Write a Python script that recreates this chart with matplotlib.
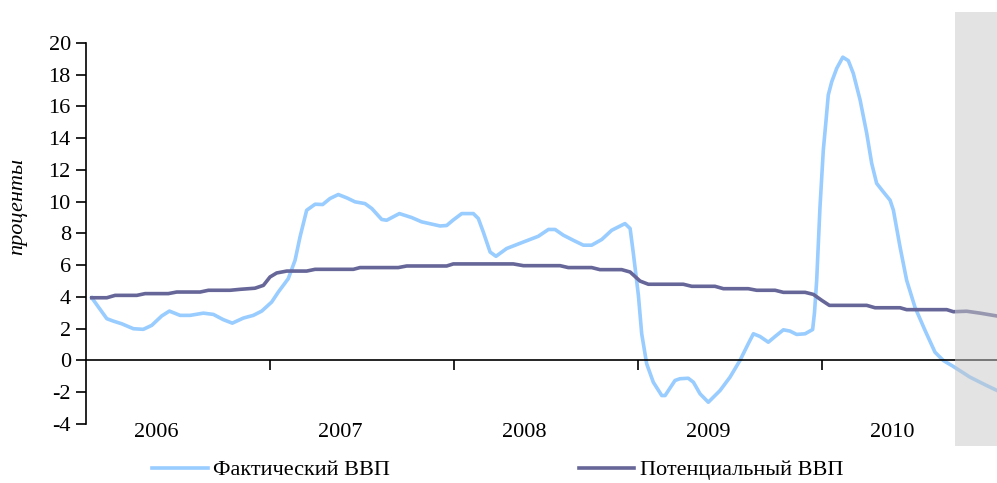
import numpy as np
import matplotlib.pyplot as plt

# Фактический ВВП (годы в десятичном виде, проценты)
fact_t = [2006.031, 2006.113, 2006.148, 2006.194, 2006.257, 2006.311, 2006.357, 2006.411,
          2006.453, 2006.511, 2006.565, 2006.638, 2006.692, 2006.746, 2006.795, 2006.855,
          2006.909, 2006.955, 2007.009, 2007.045, 2007.099, 2007.136, 2007.163, 2007.199,
          2007.245, 2007.286, 2007.326, 2007.371, 2007.417, 2007.462, 2007.516, 2007.553,
          2007.607, 2007.634, 2007.703, 2007.770, 2007.824, 2007.924, 2007.960, 2007.996,
          2008.042, 2008.105, 2008.132, 2008.159, 2008.196, 2008.228, 2008.286, 2008.377,
          2008.458, 2008.513, 2008.549, 2008.594, 2008.648, 2008.703, 2008.748, 2008.803,
          2008.857, 2008.929, 2008.957, 2008.974, 2009.002, 2009.020, 2009.047, 2009.083,
          2009.129, 2009.147, 2009.201, 2009.228, 2009.273, 2009.301, 2009.337, 2009.382,
          2009.446, 2009.500, 2009.554, 2009.599, 2009.627, 2009.663, 2009.708, 2009.745,
          2009.790, 2009.826, 2009.862, 2009.908, 2009.949, 2009.959, 2009.971, 2009.989,
          2010.007, 2010.022, 2010.034, 2010.053, 2010.080, 2010.113, 2010.143, 2010.170,
          2010.207, 2010.243, 2010.270, 2010.297, 2010.333, 2010.370, 2010.388, 2010.424,
          2010.460, 2010.505, 2010.560, 2010.614, 2010.659, 2010.714, 2010.804, 2010.895,
          2010.951]
fact_v = [3.95, 2.63, 2.48, 2.31, 2.00, 1.96, 2.21, 2.80,
          3.11, 2.84, 2.84, 2.98, 2.90, 2.57, 2.35, 2.67,
          2.84, 3.11, 3.68, 4.31, 5.15, 6.31, 7.78, 9.46,
          9.84, 9.82, 10.20, 10.45, 10.24, 9.99, 9.88, 9.57,
          8.88, 8.83, 9.25, 9.00, 8.73, 8.47, 8.50, 8.85,
          9.25, 9.25, 8.94, 8.09, 6.83, 6.56, 7.05, 7.46,
          7.82, 8.25, 8.25, 7.89, 7.57, 7.26, 7.26, 7.62,
          8.20, 8.62, 8.31, 6.80, 4.10, 1.68, -0.21, -1.37,
          -2.21, -2.21, -1.26, -1.15, -1.12, -1.37, -2.10, -2.63,
          -1.89, -1.05, 0.00, 1.05, 1.68, 1.51, 1.15, 1.51,
          1.93, 1.85, 1.64, 1.68, 1.95, 3.00, 5.05, 9.67,
          13.25, 15.14, 16.72, 17.56, 18.40, 19.10, 18.88, 18.08,
          16.40, 14.30, 12.41, 11.15, 10.62, 10.09, 9.46, 7.15,
          5.05, 3.36, 1.89, 0.52, 0.00, -0.38, -1.05, -1.58,
          -1.89]

# Потенциальный ВВП
pot_t = [2006.031, 2006.113, 2006.158, 2006.276, 2006.321, 2006.447, 2006.493, 2006.620,
         2006.665, 2006.783, 2006.837, 2006.918, 2006.964, 2007.000, 2007.036, 2007.091,
         2007.199, 2007.245, 2007.453, 2007.489, 2007.697, 2007.743, 2007.960, 2007.996,
         2008.322, 2008.377, 2008.576, 2008.621, 2008.748, 2008.793, 2008.911, 2008.957,
         2009.011, 2009.056, 2009.246, 2009.292, 2009.418, 2009.464, 2009.599, 2009.645,
         2009.745, 2009.790, 2009.908, 2009.953, 2009.998, 2010.040, 2010.243, 2010.288,
         2010.424, 2010.460, 2010.678, 2010.714, 2010.786, 2010.859, 2010.951]
pot_v = [3.95, 3.95, 4.10, 4.10, 4.21, 4.21, 4.31, 4.31,
         4.42, 4.42, 4.48, 4.55, 4.73, 5.26, 5.51, 5.63,
         5.63, 5.74, 5.74, 5.85, 5.85, 5.95, 5.95, 6.08,
         6.08, 5.97, 5.97, 5.85, 5.85, 5.72, 5.72, 5.57,
         5.00, 4.80, 4.80, 4.67, 4.67, 4.52, 4.52, 4.42,
         4.42, 4.29, 4.29, 4.16, 3.79, 3.47, 3.47, 3.32,
         3.32, 3.20, 3.20, 3.07, 3.10, 2.98, 2.80]

years = [2006, 2007, 2008, 2009, 2010]
forecast_start = 2010.723

plt.rcParams['font.family'] = ['Liberation Serif', 'DejaVu Serif']
plt.rcParams['font.size'] = 16
plt.rcParams['axes.unicode_minus'] = False

fig = plt.figure(figsize=(9.97, 4.83), dpi=100)
ax = fig.add_axes([0.0863, 0.1222, 0.9137, 0.789])

ax.plot(fact_t, fact_v, color='#99ccff', lw=2.6, label='Фактический ВВП', solid_joinstyle='round')
ax.plot(pot_t, pot_v, color='#666699', lw=2.6, label='Потенциальный ВВП', solid_joinstyle='round')

ax.set_xlim(2006, 2010.951)
ax.set_ylim(-4, 20)
ax.set_yticks(np.arange(-4, 21, 2))
ax.set_xticks(years[1:])
ax.set_xticklabels([])

ax.spines['top'].set_visible(False)
ax.spines['right'].set_visible(False)
ax.spines['bottom'].set_position(('data', 0))
ax.spines['left'].set_linewidth(1.2)
ax.spines['bottom'].set_linewidth(1.2)
ax.tick_params(axis='y', direction='out', length=7, width=1.2, pad=4)
ax.tick_params(axis='x', direction='out', length=7, width=1.2)

for y in years:
    ax.text(y + 0.38, -4.55, str(y), ha='center', va='center', clip_on=False)

ax.axvspan(forecast_start, 2010.951, ymin=-0.058, ymax=1.081, facecolor='#c8c8c8',
           alpha=0.5, edgecolor='none', clip_on=False, zorder=5)

fig.text(18 / 997, 1 - 206 / 483, 'проценты', rotation=90, ha='center', va='center',
         style='italic', fontsize=16)

fig.legend(loc='center left', bbox_to_anchor=(152 / 997, 1 - 470 / 483), ncol=2,
           frameon=False, borderpad=0, borderaxespad=0, handlelength=2.5,
           handletextpad=0.25, columnspacing=8.5, fontsize=16)

fig.savefig('out.png', dpi=100)
